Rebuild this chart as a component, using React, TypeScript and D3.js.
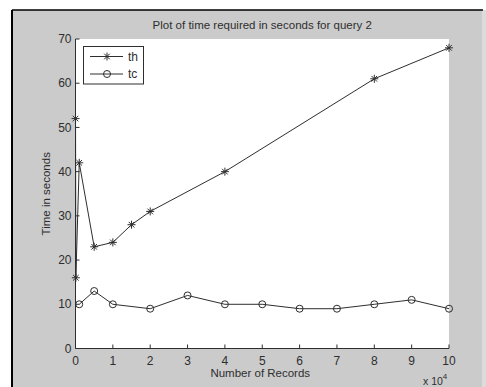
import React, { useEffect, useRef } from "react";
import * as d3 from "d3";

const thX = [0.001, 0.01, 0.1, 0.5, 1, 1.5, 2, 4, 8, 10];
const thY = [52, 16, 42, 23, 24, 28, 31, 40, 61, 68];
const tcX = [0.1, 0.5, 1, 2, 3, 4, 5, 6, 7, 8, 9, 10];
const tcY = [10, 13, 10, 9, 12, 10, 10, 9, 9, 10, 11, 9];
const xTicks = [0, 1, 2, 3, 4, 5, 6, 7, 8, 9, 10];
const yTicks = [0, 10, 20, 30, 40, 50, 60, 70];
const seriesNames = ["th", "tc"];

const W = 486;
const H = 387;
const FONT = "'Liberation Sans', Arial, sans-serif";
const INK = "#2e2e2e";

export default function App() {
  const ref = useRef<SVGSVGElement>(null);
  useEffect(() => {
    const svg = d3.select(ref.current);
    svg.selectAll("*").remove();
    const left = 75.5, right = 449, top = 39, bottom = 348.5;
    const x = d3.scaleLinear().domain([0, 10]).range([left, right]);
    const y = d3.scaleLinear().domain([0, 70]).range([bottom, top]);

    svg.append("rect").attr("x", 0).attr("y", 0).attr("width", W).attr("height", H).attr("fill", "#ffffff");
    svg.append("rect").attr("x", 12).attr("y", 10).attr("width", 470).attr("height", H - 10).attr("fill", "#cbcbcb");
    svg.append("rect").attr("x", 482).attr("y", 10).attr("width", 4).attr("height", H - 10).attr("fill", "#dcdcdc");
    svg.append("line").attr("x1", 12).attr("x2", 12).attr("y1", 10).attr("y2", H).attr("stroke", "#000").attr("stroke-width", 2);
    svg.append("line").attr("x1", 12).attr("x2", 483).attr("y1", 10).attr("y2", 10).attr("stroke", "#000").attr("stroke-width", 1.5);

    svg.append("rect").attr("x", left).attr("y", top).attr("width", right - left).attr("height", bottom - top).attr("fill", "#ffffff");

    // axes
    const ax = svg.append("g").attr("stroke", INK).attr("stroke-width", 1).attr("fill", "none");
    ax.append("line").attr("x1", left).attr("x2", left).attr("y1", top).attr("y2", bottom);
    ax.append("line").attr("x1", left).attr("x2", right).attr("y1", bottom).attr("y2", bottom);
    yTicks.forEach((t) => {
      ax.append("line").attr("x1", left).attr("x2", left + 4).attr("y1", y(t)).attr("y2", y(t));
    });
    xTicks.forEach((t) => {
      ax.append("line").attr("x1", x(t)).attr("x2", x(t)).attr("y1", bottom).attr("y2", bottom - 4);
    });

    const txt = svg.append("g").attr("fill", INK).attr("font-family", FONT).attr("font-size", 12);
    yTicks.forEach((t) => {
      txt.append("text").attr("x", left - 4).attr("y", y(t)).attr("dy", "0.35em").attr("text-anchor", "end").text(String(t));
    });
    xTicks.forEach((t) => {
      txt.append("text").attr("x", x(t)).attr("y", 364.5).attr("text-anchor", "middle").text(String(t));
    });
    txt.append("text").attr("x", (left + right) / 2 - 2).attr("y", 377).attr("text-anchor", "middle").attr("font-size", 11.5).text("Number of Records");
    const e = txt.append("text").attr("x", 423).attr("y", 384.5).attr("font-size", 10.5);
    e.append("tspan").text("x 10");
    e.append("tspan").attr("dy", -6).attr("font-size", 8).text("4");
    txt.append("text").attr("transform", `translate(50,${(top + bottom) / 2}) rotate(-90)`).attr("text-anchor", "middle").attr("font-size", 11.5).text("Time in seconds");
    txt.append("text").attr("x", (left + right) / 2).attr("y", 29).attr("text-anchor", "middle").attr("font-size", 11.5).text("Plot of time required in seconds for query 2");

    const line = d3.line<[number, number]>().x((d) => x(d[0])).y((d) => y(d[1]));
    const thData = thX.map((v, i) => [v, thY[i]] as [number, number]);
    const tcData = tcX.map((v, i) => [v, tcY[i]] as [number, number]);

    const star = (g: any, cx: number, cy: number) => {
      const r = 4;
      const p = `M${cx - r},${cy}L${cx + r},${cy}M${cx},${cy - r}L${cx},${cy + r}M${cx - r * 0.7},${cy - r * 0.7}L${cx + r * 0.7},${cy + r * 0.7}M${cx - r * 0.7},${cy + r * 0.7}L${cx + r * 0.7},${cy - r * 0.7}`;
      g.append("path").attr("d", p).attr("stroke", INK).attr("stroke-width", 1).attr("fill", "none");
    };
    const circ = (g: any, cx: number, cy: number) => {
      g.append("circle").attr("cx", cx).attr("cy", cy).attr("r", 3.5).attr("stroke", INK).attr("stroke-width", 1).attr("fill", "none");
    };

    const plot = svg.append("g");
    plot.append("path").attr("d", line(thData)).attr("stroke", INK).attr("stroke-width", 1).attr("fill", "none");
    plot.append("path").attr("d", line(tcData)).attr("stroke", INK).attr("stroke-width", 1).attr("fill", "none");
    thData.forEach((d) => star(plot, x(d[0]), y(d[1])));
    tcData.forEach((d) => circ(plot, x(d[0]), y(d[1])));

    // legend
    const lg = svg.append("g");
    lg.append("rect").attr("x", 83.5).attr("y", 46.5).attr("width", 60).attr("height", 37.5).attr("fill", "#fff").attr("stroke", INK).attr("stroke-width", 1);
    seriesNames.forEach((name, i) => {
      const ly = 56.5 + i * 17.5;
      lg.append("line").attr("x1", 90).attr("x2", 123).attr("y1", ly).attr("y2", ly).attr("stroke", INK).attr("stroke-width", 1);
      if (i === 0) star(lg, 107, ly); else circ(lg, 107, ly);
      lg.append("text").attr("x", 128).attr("y", ly).attr("dy", "0.35em").attr("font-family", FONT).attr("font-size", 12).attr("fill", INK).text(name);
    });
  }, []);
  return (
    <div style={{ position: "absolute", left: 0, top: 0 }}>
      <svg ref={ref} width={W} height={H} style={{ display: "block" }} />
    </div>
  );
}
